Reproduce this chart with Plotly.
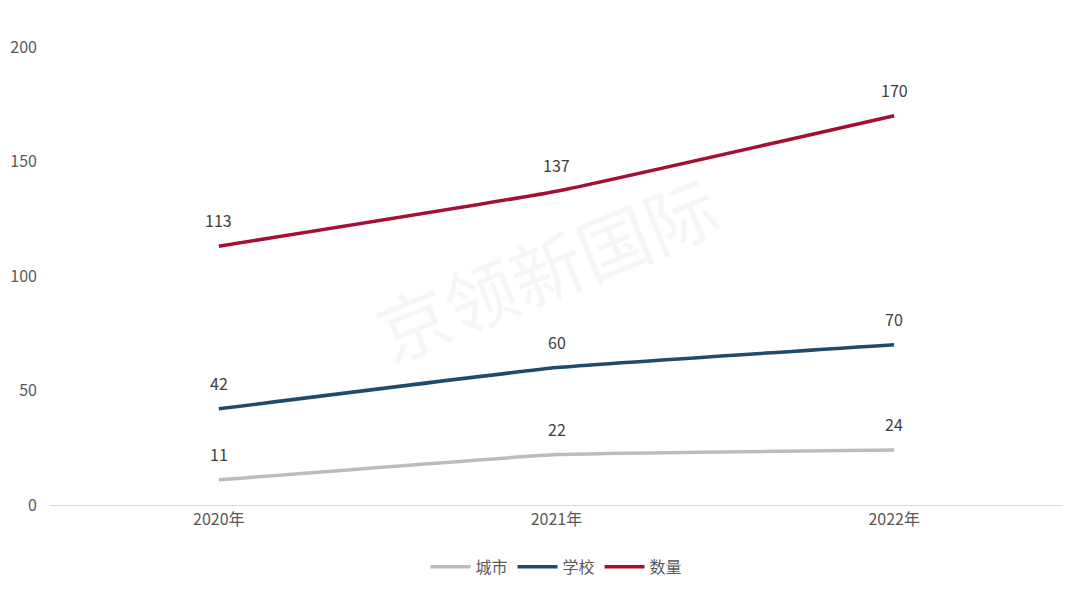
import plotly.graph_objects as go

categories = ["2020年", "2021年", "2022年"]
city = [11, 22, 24]
school = [42, 60, 70]
count = [113, 137, 170]
series_names = ["城市", "学校", "数量"]
y_ticks = [0, 50, 100, 150, 200]

colors = ["#bcbcbc", "#1f4a6b", "#a50f34"]
font_family = "Noto Sans CJK SC, Noto Sans, sans-serif"

fig = go.Figure()
for name, vals, col in zip(series_names, [city, school, count], colors):
    fig.add_trace(go.Scatter(
        x=categories, y=vals, name=name, mode="lines",
        line=dict(color=col, width=3.5, shape="spline", smoothing=0.3),
        hoverinfo="skip",
    ))
    for c, v in zip(categories, vals):
        fig.add_annotation(x=c, y=v, text=str(v), showarrow=False,
                           yshift=26, font=dict(size=16, color="#404040", family=font_family))

fig.add_annotation(
    x=0.49, y=0.52, xref="paper", yref="paper", text="京领新国际",
    showarrow=False, textangle=-22,
    font=dict(size=72, color="rgba(200,200,200,0.16)", family=font_family),
)

fig.update_layout(
    width=1080, height=591,
    margin=dict(l=50, r=17, t=47, b=86, autoexpand=False),
    paper_bgcolor="white", plot_bgcolor="white",
    font=dict(family=font_family, size=16, color="#595959"),
    showlegend=True,
    legend=dict(orientation="h", x=0.5, xanchor="center",
                yref="container", y=0.041, yanchor="middle",
                font=dict(size=16, color="#595959"), itemwidth=40),
    xaxis=dict(type="category", range=[-0.5, 2.5], showgrid=False, zeroline=False,
               showline=True, linecolor="#d9d9d9", linewidth=1, ticks="",
               tickfont=dict(size=16, color="#595959"), automargin=False),
    yaxis=dict(range=[0, 200], tickvals=y_ticks, showgrid=False, zeroline=False,
               showline=False, ticks="", ticklabelstandoff=12,
               tickfont=dict(size=16, color="#595959"), automargin=False),
)

fig.write_html("out.html")
